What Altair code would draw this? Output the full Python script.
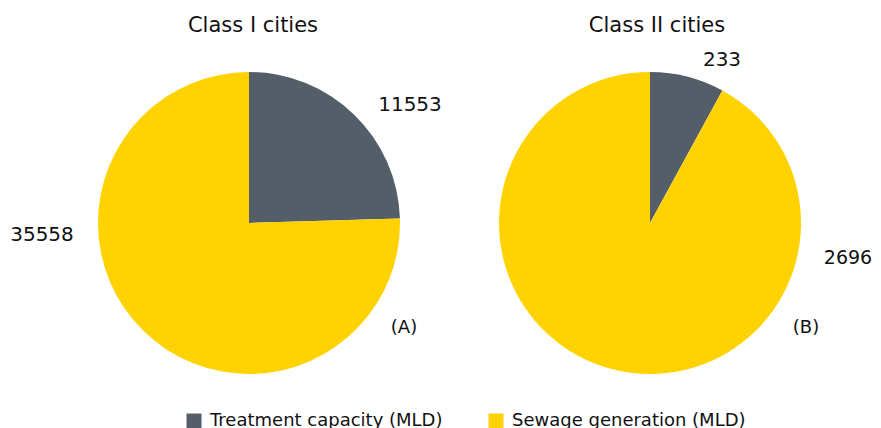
import altair as alt
import pandas as pd

categories = ["Treatment capacity (MLD)", "Sewage generation (MLD)"]
class1_values = [11553, 35558]
class2_values = [233, 2696]
panel_titles = ["Class I cities", "Class II cities"]
panel_tags = ["(A)", "(B)"]
colors = ["#535e69", "#ffd200"]

df = pd.DataFrame({
    "panel": [panel_titles[0]] * 2 + [panel_titles[1]] * 2,
    "category": categories * 2,
    "value": class1_values + class2_values,
    "order": [0, 1, 0, 1],
})

FONT = "DejaVu Sans"
R = 151
CX1, CX2, CY = 241, 642, 215

color = alt.Color(
    "category:N",
    scale=alt.Scale(domain=categories, range=colors),
    sort=categories,
    legend=alt.Legend(
        title=None, orient="none", direction="horizontal",
        legendX=177, legendY=404, symbolType="square", symbolSize=225,
        symbolStrokeWidth=0, labelFont=FONT, labelFontSize=18, labelLimit=500,
        labelColor="#111111", columnPadding=44, labelOffset=7,
        labelExpr="datum.label == 'Sewage generation (MLD)' ? ' ' + datum.label : datum.label",
    ),
)


def pie(panel, cx):
    return alt.Chart(df).transform_filter(
        alt.datum.panel == panel
    ).mark_arc(radius=R, stroke=None).encode(
        theta=alt.Theta("value:Q", stack=True),
        order=alt.Order("order:Q"),
        color=color,
        x=alt.value(cx),
        y=alt.value(CY),
    )


def text(label, x, y, size=20):
    return alt.Chart(df).mark_text(
        text=label, font=FONT, fontSize=size, color="#111111",
        align="center", baseline="middle",
    ).encode(x=alt.value(x), y=alt.value(y)).transform_filter(
        alt.datum.order == 0
    ).transform_filter(alt.datum.panel == panel_titles[0])


layers = [
    pie(panel_titles[0], CX1),
    pie(panel_titles[1], CX2),
    text(panel_titles[0], 245, 18, 21),
    text(panel_titles[1], 649, 18, 21),
    text(str(class1_values[0]), 402, 97),
    text(str(class1_values[1]), 34, 227),
    text(panel_tags[0], 396, 320, 18),
    text(str(class2_values[0]), 714, 52),
    text(str(class2_values[1]), 840, 250, 19),
    text(panel_tags[1], 798, 320, 18),
]

chart = alt.layer(*layers).resolve_scale(theta="independent").properties(
    width=865, height=420, padding=0,
    autosize=alt.AutoSizeParams(type="none"),
).configure_view(stroke=None)

chart.save("out.html", embed_options={"renderer": "svg", "actions": False})
